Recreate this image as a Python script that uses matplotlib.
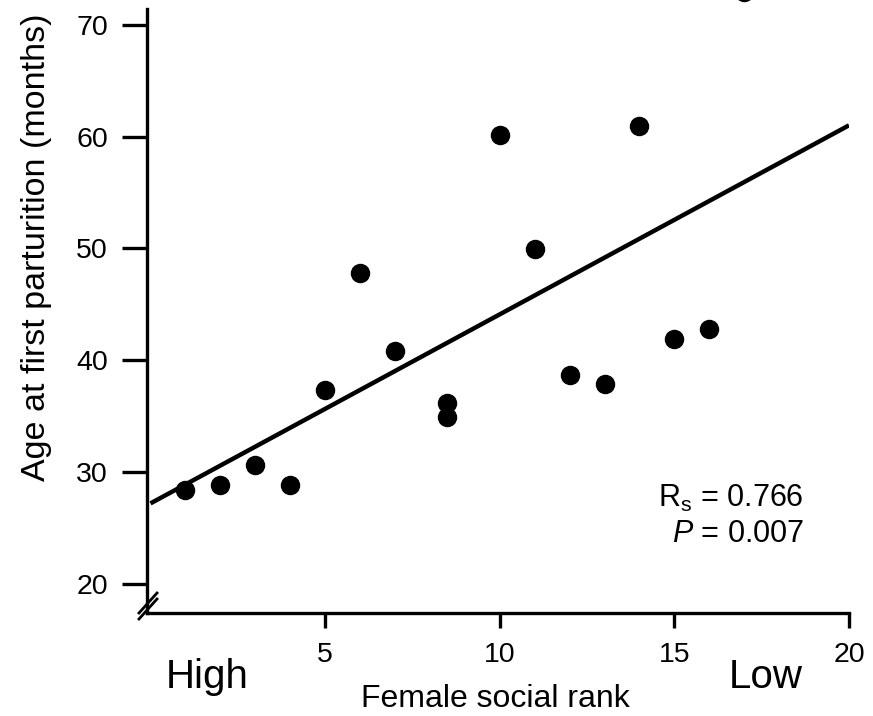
import matplotlib
matplotlib.use("Agg")
import matplotlib.pyplot as plt
from matplotlib.lines import Line2D

plt.rcParams["font.family"] = ["Liberation Sans", "DejaVu Sans"]
plt.rcParams["mathtext.fontset"] = "custom"
plt.rcParams["mathtext.rm"] = "Liberation Sans"
plt.rcParams["mathtext.it"] = "Liberation Sans:italic"

# Female social rank (1 = highest) and age at first parturition (months)
rank = [1, 2, 3, 4, 5, 6, 7, 8.5, 8.5, 10, 11, 12, 13, 14, 15, 16, 17]
age_months = [28.4, 28.8, 30.6, 28.8, 37.3, 47.8, 40.8, 36.2, 34.9,
              60.1, 49.9, 38.7, 37.9, 60.9, 41.9, 42.8, 72.9]

# Fitted trend line end points
fit_rank = [0, 20]
fit_age = [27.2, 61.0]

x_ticks = [5, 10, 15, 20]
y_ticks = [20, 30, 40, 50, 60, 70]

W, H = 873, 716
fig = plt.figure(figsize=(W / 100, H / 100), dpi=100)
ax = fig.add_axes([147 / W, 103 / H, (849 - 147) / W, (613 - 9) / H])

ax.plot(fit_rank, fit_age, color="black", lw=3.2, solid_capstyle="butt", zorder=2)
ax.plot(rank, age_months, "o", color="black", ms=13, mec="black",
        clip_on=False, zorder=3)

ax.set_xlim(-0.1, 20)
ax.set_ylim(17.4, 71.4)
ax.set_xticks(x_ticks)
ax.set_yticks(y_ticks)
ax.set_xticklabels([str(t) for t in x_ticks])
ax.set_yticklabels([str(t) for t in y_ticks])

for side in ("top", "right"):
    ax.spines[side].set_visible(False)
for side in ("left", "bottom"):
    ax.spines[side].set_linewidth(2.4)

ax.tick_params(axis="x", direction="out", length=11, width=2.4, pad=10,
               labelsize=20.5)
ax.tick_params(axis="y", direction="out", length=18, width=2.4, pad=10,
               labelsize=20.5)

# Axis-break slashes at the bottom of the y axis
for dy in (0.0, 6.0):
    y0 = 613 - 2 - dy
    x_a, y_a = 139, y0 + 8
    x_b, y_b = 157, y0 - 12
    fig.add_artist(Line2D([x_a / W, x_b / W], [1 - y_a / H, 1 - y_b / H],
                          color="black", lw=2.0, transform=fig.transFigure))

# Axis titles and annotations
fig.text(37 / W, 1 - 247 / H, "Age at first parturition (months)",
         rotation=90, ha="center", va="center", fontsize=24.5)
fig.text(495.5 / W, 9 / H, "Female social rank", ha="center",
         va="baseline", fontsize=23)
fig.text(207 / W, 28 / H, "High", ha="center", va="baseline", fontsize=29)
fig.text(766 / W, 28 / H, "Low", ha="center", va="baseline", fontsize=29)

fig.text(804 / W, 1 - 507 / H, r"R$_{\mathregular{s}}$ = 0.766",
         ha="right", va="baseline", fontsize=22)
fig.text(804 / W, 1 - 542 / H, r"$\it{P}$ = 0.007",
         ha="right", va="baseline", fontsize=22)

fig.savefig("out.png", dpi=100)
